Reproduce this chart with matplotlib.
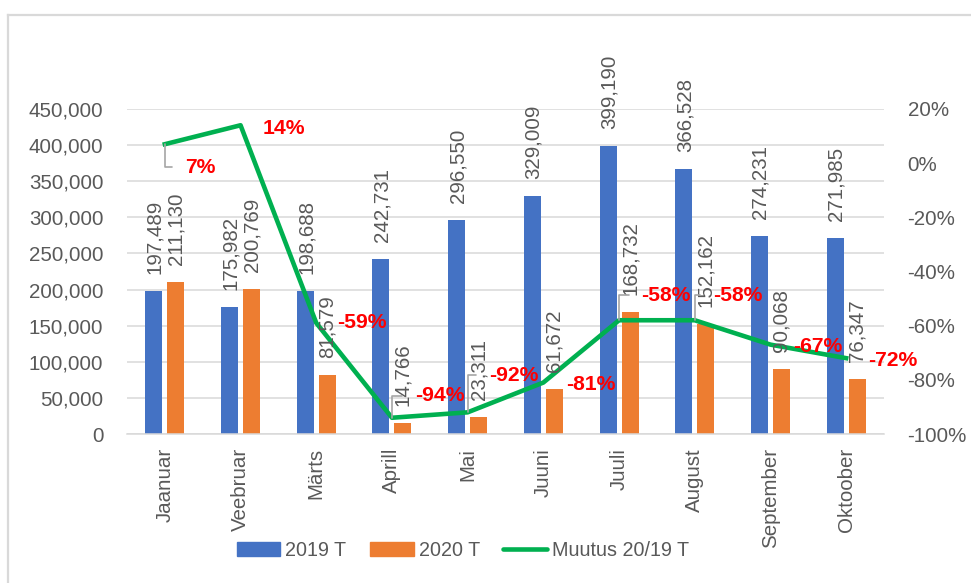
import numpy as np
import matplotlib
matplotlib.use('Agg')
import matplotlib.pyplot as plt
from matplotlib.lines import Line2D

months = ['Jaanuar', 'Veebruar', 'Märts', 'Aprill', 'Mai', 'Juuni',
          'Juuli', 'August', 'September', 'Oktoober']
val_2019 = [197489, 175982, 198688, 242731, 296550, 329009,
            399190, 366528, 274231, 271985]
val_2020 = [211130, 200769, 81579, 14766, 23311, 61672,
            168732, 152162, 90068, 76347]
change = [0.07, 0.14, -0.59, -0.94, -0.92, -0.81, -0.58, -0.58, -0.67, -0.72]

# label offsets for the percent labels (pixels from point to label left/middle)
pct_offsets = [(20, -23), (22, -3), (21, 0), (23, 22), (21, 37),
               (23, -2), (22, 25), (18, 25), (23, -2), (22, -2)]
leaders = [True, False, False, True, True, False, True, True, False, False]

BLUE = '#4472C4'
ORANGE = '#ED7D31'
GREEN = '#00B050'
GREY = '#595959'
GRID = '#D9D9D9'

plt.rcParams['font.family'] = ['Liberation Sans', 'DejaVu Sans']
plt.rcParams['font.size'] = 14.8

W, H = 971, 583
fig = plt.figure(figsize=(W / 100, H / 100), dpi=100)

# chart area border
fig.add_artist(Line2D([8 / W, 8 / W], [0, 1 - 15 / H], color='#D9D9D9', lw=1.6))
fig.add_artist(Line2D([8 / W, 1], [1 - 15 / H, 1 - 15 / H], color='#D9D9D9', lw=1.6))

ax = fig.add_axes([127 / W, 1 - 434 / H, (884 - 127) / W, (434 - 109) / H])
x = np.arange(len(months))
bw = 0.225
off = 0.145
ax.bar(x - off, val_2019, bw, color=BLUE, label='2019 T', zorder=2)
ax.bar(x + off, val_2020, bw, color=ORANGE, label='2020 T', zorder=2)
ax.set_xlim(-0.5, len(months) - 0.5)
ax.set_ylim(0, 450000)
ax.set_yticks(np.arange(0, 450001, 50000))
ax.yaxis.set_major_formatter(lambda v, pos: f'{int(v):,}')
ax.grid(axis='y', color=GRID, lw=1.1, zorder=0)
for s in ['top', 'right', 'left']:
    ax.spines[s].set_visible(False)
ax.spines['bottom'].set_color(GRID)
ax.spines['bottom'].set_linewidth(1.1)
ax.set_xticks(x)
ax.set_xticklabels(months, rotation=90, va='top', ha='center')
ax.tick_params(axis='x', length=0, pad=10, colors=GREY)
ax.tick_params(axis='y', length=0, pad=17, colors=GREY)

ax2 = ax.twinx()
ax2.plot(x, change, color=GREEN, lw=3.3, solid_joinstyle='round',
         label='Muutus 20/19 T', zorder=3)
ax2.set_ylim(-1.0, 0.2)
ax2.set_yticks(np.arange(-1.0, 0.21, 0.2))
ax2.yaxis.set_major_formatter(lambda v, pos: f'{round(v * 100):d}%')
ax2.tick_params(axis='y', length=0, pad=17, colors=GREY)
for s in ax2.spines.values():
    s.set_visible(False)

# bar value labels
for i in range(len(months)):
    ax2.annotate(f'{val_2019[i]:,}', (x[i] - off, val_2019[i]), xycoords=ax.transData,
                 xytext=(1, 17), textcoords='offset pixels', rotation=90,
                 ha='center', va='bottom', color=GREY, zorder=5)
    ax2.annotate(f'{val_2020[i]:,}', (x[i] + off, val_2020[i]), xycoords=ax.transData,
                 xytext=(0, 17), textcoords='offset pixels', rotation=90,
                 ha='center', va='bottom', color=GREY, zorder=5)

# percent labels
for i in range(len(months)):
    dx, dy = pct_offsets[i]
    props = None
    if leaders[i]:
        props = dict(arrowstyle='-', color='#A6A6A6', lw=1.2, shrinkA=9, shrinkB=0,
                     relpos=(0, 0.5), patchA=None,
                     connectionstyle='angle,angleA=0,angleB=90,rad=0')
    ax2.annotate(f'{round(change[i] * 100):d}%', (x[i], change[i]),
                 xytext=(dx, dy), textcoords='offset pixels',
                 ha='left', va='center', color='#FF0000', fontweight='bold',
                 fontsize=15.2, arrowprops=props, zorder=6)

handles = [plt.Rectangle((0, 0), 1, 1, color=BLUE),
           plt.Rectangle((0, 0), 1, 1, color=ORANGE),
           Line2D([], [], color=GREEN, lw=3.3, solid_capstyle='round')]
fig.legend(handles, ['2019 T', '2020 T', 'Muutus 20/19 T'], loc='center',
           bbox_to_anchor=(463 / W, 1 - 550 / H), ncol=3, frameon=False,
           fontsize=14.2, handlelength=2.2, handletextpad=0.25, columnspacing=1.2,
           labelcolor=GREY)

fig.savefig('out.png', dpi=100)
